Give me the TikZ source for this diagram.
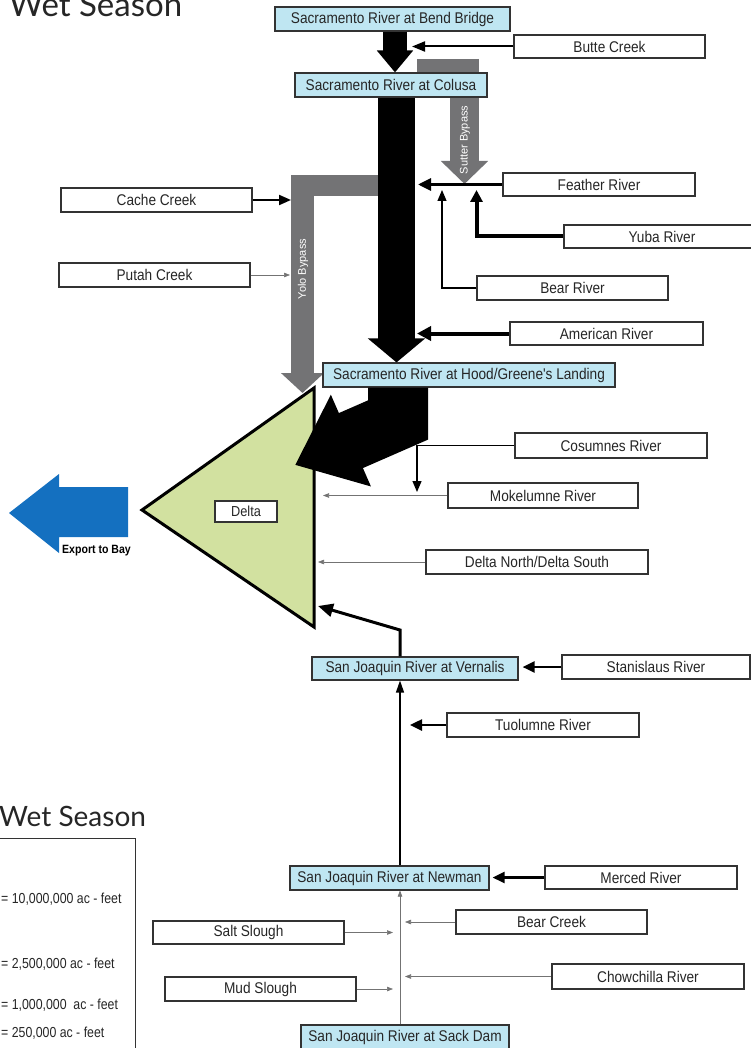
\documentclass[tikz,border=0pt]{standalone}
\usepackage{fontspec}
\setmainfont{Liberation Sans}
\newfontfamily\labfont[FakeStretch=0.88]{Liberation Sans}
\newfontfamily\legfont[FakeStretch=0.85]{Liberation Sans}
\newfontfamily\titlefont{Lato}
\usetikzlibrary{arrows.meta}
\definecolor{boxblue}{HTML}{BFE6F2}
\definecolor{bygrey}{HTML}{737375}
\definecolor{deltagreen}{HTML}{D2E1A0}
\definecolor{exportblue}{HTML}{1470C0}
\begin{document}
\begin{tikzpicture}[x=1pt,y=-1pt,
  box/.style={draw=black!80, line width=1.1pt, fill=white, inner sep=0pt, text=black!85, font=\labfont\fontsize{15.5}{17}\selectfont},
  bbox/.style={box, fill=boxblue},
  thinarrow/.style={draw=black!55, line width=0.6pt, -{Triangle[length=6pt,width=4.5pt]}},
  legtext/.style={anchor=west, inner sep=0pt, text=black!85, font=\legfont\fontsize{14.5}{16}\selectfont},
  bytext/.style={rotate=90, inner sep=0pt, text=white, font=\fontsize{11}{12}\selectfont}
]
\useasboundingbox (0,0) rectangle (751,1048);

% titles
\node[anchor=base west, inner sep=0pt, font=\titlefont\fontsize{33}{36}\selectfont, text=black!85] (title1) at (9,17) {Wet Season};
\node[anchor=base west, inner sep=0pt, font=\titlefont\fontsize{28}{30}\selectfont, text=black!85] (title2) at (-1,826) {Wet Season};

% legend
\draw[line width=1pt, black!80] (-2,838) -- (135,838) -- (135,1052);
\node[legtext] (l1) at (1,899) {= 10,000,000 ac - feet};
\node[legtext] (l2) at (1,964) {= 2,500,000 ac - feet};
\node[legtext] (l3) at (1,1005) {= 1,000,000\ \ ac - feet};
\node[legtext] (l4) at (1,1033) {= 250,000 ac - feet};

% coordinates of connector ends
\coordinate (tx) at (396.5,0);
\coordinate (bx) at (395,0);
\coordinate (jx) at (400,0);

% Sutter bypass (grey)
\fill[bygrey] (417,59) rectangle (479,80);
\draw[bygrey, line width=29pt, -{Triangle[length=23pt,width=46pt]}] (464.5,59) -- (464.5,184);
\node[bytext] (sutter) at (465,140) {Sutter Bypass};

% Yolo bypass (grey)
\fill[bygrey] (291,175) rectangle (382,196);
\draw[bygrey, line width=23pt, -{Triangle[length=20pt,width=42pt]}] (302.5,175) -- (302.5,393);
\node[bytext] (yolo) at (303,269) {Yolo Bypass};

% Delta triangle
\draw[fill=deltagreen, line width=3pt, line join=miter] (314,388) coordinate (dtop) -- (314,627) coordinate (dbot) -- (142,510) coordinate (dapex) -- cycle;
\node[box, minimum width=62pt, minimum height=21pt, font=\labfont\fontsize{14.5}{15}\selectfont] (delta) at (246,511.5) {Delta};

% Export to Bay arrow
\fill[exportblue] (128,487) -- (59,487) -- (59,474) -- (9,513) -- (59,553) -- (59,537) -- (128,537) -- cycle;
\node[anchor=base west, inner sep=0pt, font=\labfont\bfseries\fontsize{12}{13}\selectfont] (export) at (62,553) {Export to Bay};

% boxes
\node[bbox, minimum width=235pt, minimum height=24pt] (bend) at (392.5,19) {Sacramento River at Bend Bridge};
\node[box, minimum width=191pt, minimum height=23pt] (butte) at (609.5,46.5) {Butte Creek};
\node[bbox, minimum width=192pt, minimum height=24pt] (colusa) at (391,85) {Sacramento River at Colusa};
\node[box, minimum width=192pt, minimum height=23pt] (feather) at (599,184.5) {Feather River};
\node[box, minimum width=191pt, minimum height=24pt] (cache) at (156.5,200) {Cache Creek};
\node[box, minimum width=196pt, minimum height=23pt] (yuba) at (662,236.5) {Yuba River};
\node[box, minimum width=191pt, minimum height=24pt] (putah) at (154.5,275) {Putah Creek};
\node[box, minimum width=191pt, minimum height=24pt] (bear) at (572.5,288) {Bear River};
\node[box, minimum width=193pt, minimum height=23pt] (american) at (606.5,333.5) {American River};
\node[bbox, minimum width=292pt, minimum height=24pt] (hood) at (469,375) {Sacramento River at Hood/Greene's Landing};
\node[box, minimum width=192pt, minimum height=25pt] (cosumnes) at (611,445.5) {Cosumnes River};
\node[box, minimum width=190pt, minimum height=25pt] (mokelumne) at (543,495.5) {Mokelumne River};
\node[box, minimum width=222pt, minimum height=24pt] (dns) at (537,562) {Delta North/Delta South};
\node[bbox, minimum width=206pt, minimum height=23pt] (vernalis) at (415,668.5) {San Joaquin River at Vernalis};
\node[box, minimum width=188pt, minimum height=24pt] (stanislaus) at (656,667) {Stanislaus River};
\node[box, minimum width=192pt, minimum height=24pt] (tuolumne) at (543,725) {Tuolumne River};
\node[bbox, minimum width=199pt, minimum height=24pt] (newman) at (389.5,878) {San Joaquin River at Newman};
\node[box, minimum width=192pt, minimum height=23pt] (merced) at (641,877.5) {Merced River};
\node[box, minimum width=191pt, minimum height=24pt] (bearck) at (551.5,922) {Bear Creek};
\node[box, minimum width=191pt, minimum height=23pt] (salt) at (248.5,932.5) {Salt Slough};
\node[box, minimum width=192pt, minimum height=25pt] (chow) at (648,976.5) {Chowchilla River};
\node[box, minimum width=191pt, minimum height=24pt] (mud) at (260.5,989) {Mud Slough};
\node[bbox, minimum width=208pt, minimum height=24pt] (sack) at (405,1037) {San Joaquin River at Sack Dam};

% main black river arrows
\draw[black, line width=24pt, -{Triangle[length=22pt,width=35pt]}] (bend.south -| bx) -- (colusa.north -| bx);
\draw[black, line width=37pt, -{Triangle[length=24pt,width=56pt]}] (colusa.south -| tx) -- (hood.north -| tx);
\coordinate (hoodcorner) at (398,420);
\coordinate (deltatip) at (295,465);
\draw[black, line width=60pt, line join=miter, -{Triangle[length=61pt,width=96pt]}] (hood.south -| hoodcorner) -- (hoodcorner) -- (deltatip);

% tributary connectors (Sacramento)
\coordinate (tButte) at (412,46.5);
\coordinate (tFeather) at (418,184.5);
\coordinate (tBear) at (442,190);
\coordinate (tYuba) at (476.5,190);
\coordinate (tAmerican) at (417,333.5);
\coordinate (tCache) at (291,200);
\coordinate (tPutah) at (290,275);
\draw[black, line width=2pt, -{Triangle[length=13pt,width=10pt]}] (butte.west) -- (tButte);
\draw[black, line width=3pt, -{Triangle[length=13pt,width=12pt]}] (feather.west) -- (tFeather);
\draw[black, line width=1.2pt, -{Triangle[length=11pt,width=9pt]}] (bear.west) -| (tBear);
\draw[black, line width=4pt, -{Triangle[length=12pt,width=12pt]}] (yuba.west) -| (tYuba);
\draw[black, line width=4pt, -{Triangle[length=14pt,width=14pt]}] (american.west) -- (tAmerican);
\draw[black, line width=2pt, -{Triangle[length=12pt,width=10pt]}] (cache.east) -- (tCache);
\draw[thinarrow] (putah.east) -- (tPutah);

% Delta inflows
\coordinate (tCos) at (417,492);
\coordinate (tMok) at (323,495.5);
\coordinate (tDns) at (318,562);
\coordinate (vbend) at (400,630);
\coordinate (tVern) at (318,606);
\draw[black, line width=1.3pt, -{Triangle[length=11pt,width=9pt]}] (cosumnes.west) -| (tCos);
\draw[thinarrow] (mokelumne.west) -- (tMok);
\draw[thinarrow] (dns.west) -- (tDns);
\draw[black, line width=3pt, -{Triangle[length=15pt,width=13pt]}] (vernalis.north -| vbend) -- (vbend) -- (tVern);

% San Joaquin
\coordinate (tTuol) at (410,725);
\draw[black, line width=2.5pt, -{Triangle[length=12pt,width=11pt]}] (stanislaus.west) -- ([xshift=4pt]stanislaus.west -| vernalis.east);
\draw[black, line width=2.5pt, -{Triangle[length=12pt,width=11pt]}] (tuolumne.west) -- (tTuol);
\draw[black, line width=1.2pt, -{Triangle[length=12pt,width=8pt]}] (newman.north -| jx) -- (vernalis.south -| jx);
\draw[black, line width=2.5pt, -{Triangle[length=12pt,width=11pt]}] (merced.west) -- ([xshift=3pt]merced.west -| newman.east);
\coordinate (tBearCk) at (405,922);
\coordinate (tSalt) at (393,932.5);
\coordinate (tChow) at (405,976.5);
\coordinate (tMud) at (393,989);
\draw[thinarrow] (bearck.west) -- (tBearCk);
\draw[thinarrow] (salt.east) -- (tSalt);
\draw[thinarrow] (chow.west) -- (tChow);
\draw[thinarrow] (mud.east) -- (tMud);
\draw[thinarrow] (sack.north -| jx) -- (newman.south -| jx);
\end{tikzpicture}
\end{document}
